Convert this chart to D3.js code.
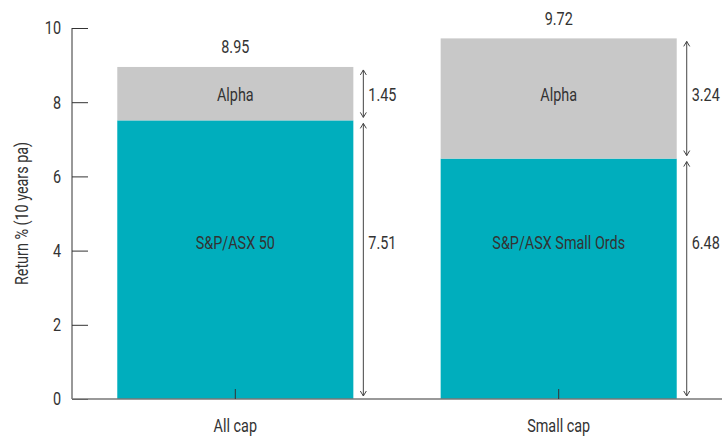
<!DOCTYPE html>
<html>
<head>
<meta charset="utf-8">
<script src="https://cdn.jsdelivr.net/npm/d3@7"></script>
<style>
  body { margin: 0; background: #fff; }
  text { font-family: "Roboto", sans-serif; fill: #333; }
</style>
</head>
<body>
<div id="chart"></div>
<script>
// data
const categories = ['All cap', 'Small cap'];
const baseNames = ['S&P/ASX 50', 'S&P/ASX Small Ords'];
const baseValues = [7.51, 6.48];
const alphaValues = [1.45, 3.24];
const totals = [8.95, 9.72];
const yTicks = [0, 2, 4, 6, 8, 10];

const W = 725, H = 443;
const svg = d3.select('#chart').append('svg')
    .attr('width', W)
    .attr('height', H);

const x = d3.scaleBand().domain(categories).range([72, 722])
    .paddingInner(0.27).paddingOuter(0.14);
const y = d3.scaleLinear().domain([0, 10]).range([399, 28]);

// condensed-looking text
function label(px, py, str, anchor, rot) {
    const g = svg.append('g')
        .attr('transform', 'translate(' + px + ',' + py + ')' + (rot ? ' rotate(' + rot + ')' : '') + ' scale(0.8,1)');
    return g.append('text')
        .attr('dy', '0.35em')
        .attr('text-anchor', anchor || 'start')
        .attr('font-size', 18)
        .text(str);
}

const rowAlpha = y(8.2), rowBase = y(4.2);

categories.forEach(function(c, i) {
    svg.append('rect')
        .attr('x', x(c)).attr('width', x.bandwidth())
        .attr('y', y(baseValues[i])).attr('height', y(0) - y(baseValues[i]))
        .attr('fill', '#00AEBD');
    svg.append('rect')
        .attr('x', x(c)).attr('width', x.bandwidth())
        .attr('y', y(totals[i])).attr('height', y(baseValues[i]) - y(totals[i]))
        .attr('fill', '#C8C8C8');

    const cx = x(c) + x.bandwidth() / 2;
    label(cx, rowAlpha, 'Alpha', 'middle');
    label(cx, rowBase, baseNames[i], 'middle');
    label(cx, y(totals[i]) - 20, totals[i].toFixed(2), 'middle');

    // arrows
    const ax = x(c) + x.bandwidth() + 10;
    const segs = [[0, baseValues[i], baseValues[i], rowBase], [baseValues[i], totals[i], alphaValues[i], rowAlpha]];
    segs.forEach(function(s) {
        const y1 = y(s[1]) + 3, y0 = y(s[0]) - 3;
        svg.append('line').attr('x1', ax).attr('x2', ax).attr('y1', y1).attr('y2', y0)
            .attr('stroke', '#444').attr('stroke-width', 1);
        svg.append('path').attr('d', `M${ax - 3},${y1 + 5}L${ax},${y1}L${ax + 3},${y1 + 5}`)
            .attr('fill', 'none').attr('stroke', '#444').attr('stroke-width', 1);
        svg.append('path').attr('d', `M${ax - 3},${y0 - 5}L${ax},${y0}L${ax + 3},${y0 - 5}`)
            .attr('fill', 'none').attr('stroke', '#444').attr('stroke-width', 1);
        label(ax + 5, s[3], s[2].toFixed(2), 'start');
    });
});

// y axis
const yAxis = svg.append('g').attr('transform', 'translate(72,0)')
    .call(d3.axisRight(y).tickValues(yTicks).tickSize(16).tickFormat(''));
yAxis.select('.domain').attr('stroke', '#333').attr('d', 'M0,' + y(10) + 'V' + y(0));
yAxis.selectAll('.tick line').attr('stroke', '#333');
yTicks.forEach(function(d) {
    label(61, y(d), d, 'end');
});

// x axis
const xAxis = svg.append('g').attr('transform', 'translate(0,399)')
    .call(d3.axisTop(x).tickSize(10).tickFormat(''));
xAxis.select('.domain').attr('stroke', '#777').attr('stroke-width', 1.5).attr('d', 'M72,0H722');
xAxis.selectAll('.tick line').attr('stroke', '#333');
categories.forEach(function(c) {
    label(x(c) + x.bandwidth() / 2, 426, c, 'middle');
});

label(22, y(5), 'Return % (10 years pa)', 'middle', -90);
</script>
</body>
</html>
